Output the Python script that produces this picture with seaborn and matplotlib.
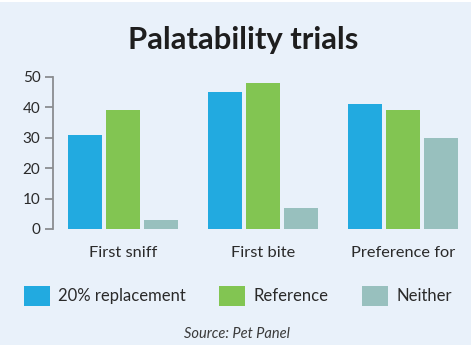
import matplotlib
matplotlib.use("Agg")
import matplotlib.pyplot as plt
import seaborn as sns
import pandas as pd
from matplotlib.patches import Rectangle

categories = ["First sniff", "First bite", "Preference for"]
series_names = ["20% replacement", "Reference", "Neither"]
replacement = [31, 45, 41]
reference = [39, 48, 39]
neither = [3, 7, 30]
colors = ["#22AAE0", "#82C552", "#98C0BE"]
yticks = [0, 10, 20, 30, 40, 50]

rows = []
for name, vals in zip(series_names, [replacement, reference, neither]):
    for c, v in zip(categories, vals):
        rows.append({"category": c, "series": name, "value": v})
df = pd.DataFrame(rows)

sns.set_theme(style="white")
plt.rcParams["font.family"] = ["Lato", "DejaVu Sans"]

bg = "#E9F1FA"
W, H = 474, 345
fig = plt.figure(figsize=(W / 100, H / 100), dpi=100, facecolor="white")
fig.patches.append(Rectangle((0, 0), 471 / W, 343 / H, transform=fig.transFigure,
                             facecolor=bg, edgecolor="none", zorder=-10))

ax = fig.add_axes([53 / W, 1 - 229 / H, 420 / W, (229 - 77) / H])
ax.set_facecolor("none")
ax.set_zorder(5)
sns.barplot(data=df, x="category", y="value", hue="series", order=categories,
            hue_order=series_names, palette=colors, width=0.814, gap=0.08,
            saturation=1, ax=ax, legend=True)
ax.set_xlim(-0.5, 2.5)
ax.set_ylim(0, 50)
ax.set_yticks(yticks)
ax.set_xlabel("")
ax.set_ylabel("")
for s in ["top", "right", "bottom"]:
    ax.spines[s].set_visible(False)
ax.spines["left"].set_color("#8a8d90")
ax.spines["left"].set_linewidth(1.3)
ax.tick_params(axis="y", left=True, length=6, width=1.3, color="#8a8d90",
               labelsize=11, labelcolor="#2a2a2a", pad=3)
ax.tick_params(axis="x", bottom=False, labelsize=11.8, labelcolor="#2a2a2a", pad=6)
for p in ax.patches:
    p.set_edgecolor("none")

handles, labels = ax.get_legend_handles_labels()
ax.get_legend().remove()
leg = fig.legend(handles, labels, loc="center", bbox_to_anchor=(0.502, 1 - 296 / H),
                 ncol=3, frameon=False, fontsize=12.0, handlelength=1.55,
                 handleheight=1.55, handletextpad=0.5, columnspacing=2.0,
                 labelcolor="#2a2a2a")

fig.text(243 / W, 1 - 40 / H, "Palatability trials", ha="center", va="center",
         fontsize=22.3, fontweight="bold", color="#1e1e1e")
fig.text(237 / W, 1 - 334 / H, "Source: Pet Panel", ha="center", va="center",
         fontsize=10.5, fontstyle="italic", color="#3a3a3a")

fig.savefig("out.png", dpi=100, facecolor="white")
